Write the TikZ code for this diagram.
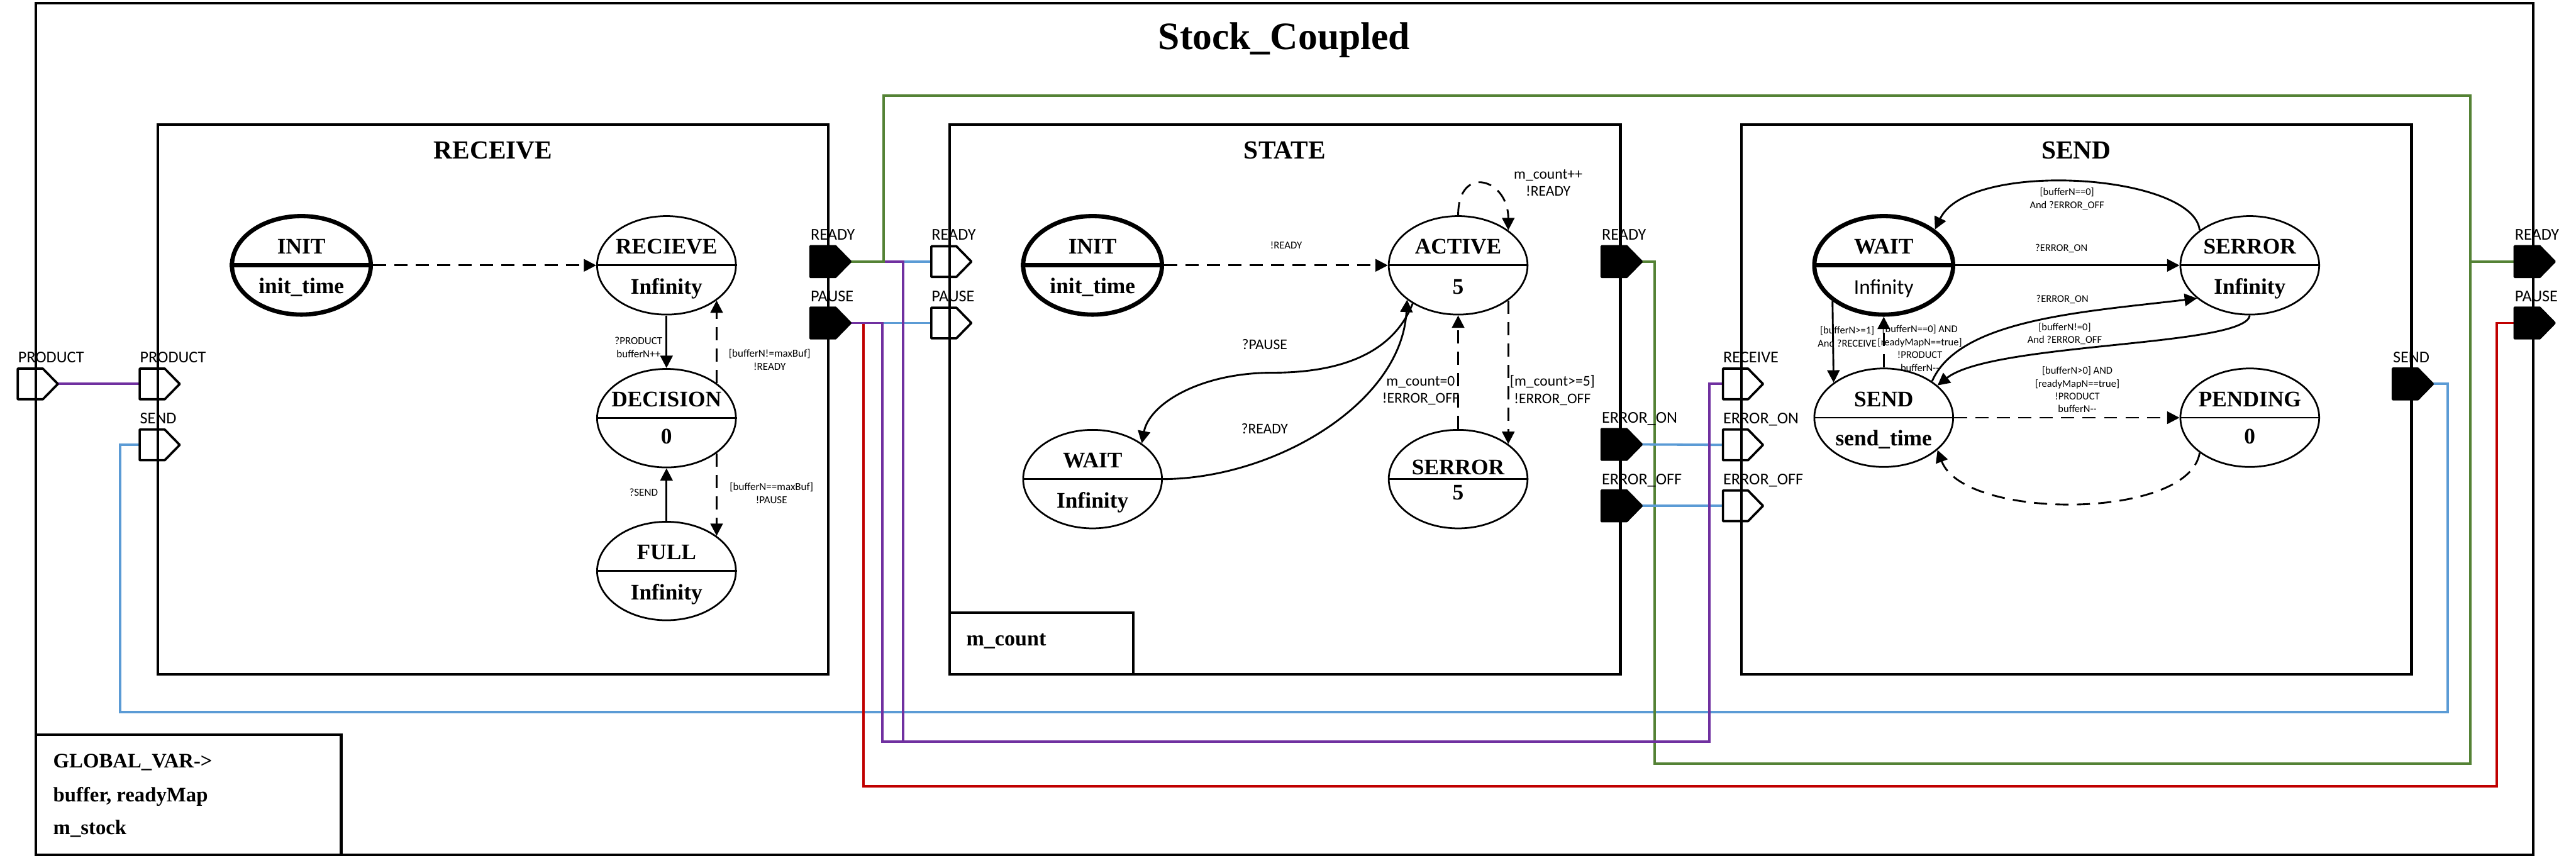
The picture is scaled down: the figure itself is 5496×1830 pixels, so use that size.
\documentclass[tikz,border=0pt]{standalone}
\usepackage{fontspec}
\setmainfont{Liberation Serif}
\newfontfamily\calib{Carlito}
\usetikzlibrary{arrows.meta,shapes.geometric}

\definecolor{cgreen}{RGB}{84,130,53}
\definecolor{cblue}{RGB}{91,155,213}
\definecolor{cpurple}{RGB}{112,48,160}
\definecolor{cred}{RGB}{192,0,0}

\tikzset{
  box/.style={draw, line width=1.6pt},
  wire/.style={line width=1.45pt},
  stbase/.style={ellipse, draw, line width=1.05pt, minimum width=2.96cm, minimum height=2.10cm, inner sep=0pt},
  stinit/.style={line width=2.6pt},
  stnorm/.style={},
  sttext/.style={font=\fontsize{13.5}{16}\selectfont\bfseries, anchor=base, inner sep=0pt},
  btitle/.style={font=\fontsize{15.8}{19}\selectfont\bfseries, anchor=base, inner sep=0pt},
  tr/.style={line width=1.1pt, -{Triangle[length=7.5pt,width=7.5pt]}},
  trd/.style={tr, dash pattern=on 8pt off 5pt},
  portbox/.style={minimum width=0.84cm, minimum height=0.64cm, inner sep=0pt, anchor=west},
  pin/.style={draw, line width=1.4pt, line join=round},
  pout/.style={draw, fill=black, line width=1.4pt, line join=round},
  plabel/.style={font={\calib\fontsize{10}{12}\selectfont}, anchor=base west, inner sep=0pt},
  lblR/.style={font={\calib\fontsize{6.5}{8}\selectfont}, align=center, inner sep=0pt},
  lblRs/.style={font={\calib\fontsize{6.4}{8}\selectfont}, align=center, inner sep=0pt},
  lblS/.style={font={\calib\fontsize{9}{10.5}\selectfont}, align=center, inner sep=0pt},
  lblD/.style={font={\calib\fontsize{6.3}{7.8}\selectfont}, align=center, inner sep=0pt},
  gtext/.style={font=\fontsize{12.5}{15}\selectfont\bfseries, anchor=base west, inner sep=0pt}
}

% state: style, name, position, top text, bottom text, top shift, bottom shift
\newcommand\stnode[7]{%
  \node[stbase,#1] (#2) at (#3) {};
  \draw[line width=1.05pt,#1] (#2.west) -- (#2.east);
  \node[sttext] (#2-t) at ([yshift=#6]#2.center) {#4};
  \node[sttext] (#2-b) at ([yshift=#7]#2.center) {#5};
}
% port: style, name, left-middle position, label
\newcommand\port[4]{%
  \node[portbox] (#2) at (#3) {};
  \draw[#1] (#2.north west) -- ([xshift=-0.32cm]#2.north east) -- (#2.east)
     -- ([xshift=-0.32cm]#2.south east) -- (#2.south west) -- cycle;
  \node[plabel] (#2-l) at ([yshift=0.13cm]#2.north west) {#4};
}

\begin{document}
\begin{tikzpicture}[x=0.01cm,y=-0.01cm]
\useasboundingbox (0,0) rectangle (5496,1830);

% ---------- frames ----------
\draw[box] (77,7) rectangle (5405,1823);
\node[font=\fontsize{23.5}{28}\selectfont\bfseries, anchor=base, inner sep=0pt] (title) at (2740,105) {Stock\_Coupled};

\draw[box] (337,266) rectangle (1767,1438);
\node[btitle] (tR) at (1052,339) {RECEIVE};
\draw[box] (2026,266) rectangle (3457,1438);
\node[btitle] (tS) at (2741,339) {STATE};
\draw[box] (3715,266) rectangle (5145,1438);
\node[btitle] (tD) at (4430,339) {SEND};

\draw[box] (2026,1307) rectangle (2418,1438);
\node[font=\fontsize{13}{16}\selectfont\bfseries, anchor=base west, inner sep=0pt] (mc) at (2061,1377) {m\_count};

\draw[box] (77,1567) rectangle (728,1823);
\node[gtext] (g1) at (113,1637) {GLOBAL\_VAR->};
\node[gtext] (g2) at (113,1710) {buffer, readyMap};
\node[gtext] (g3) at (113,1780) {m\_stock};

% ---------- port anchors (invisible) for wires ----------
\node[portbox] (oPROD) at (38,819) {};
\node[portbox] (rPROD) at (298,819) {};
\node[portbox] (rSEND) at (298,949) {};
\node[portbox] (rREADY) at (1729,558) {};
\node[portbox] (rPAUSE) at (1729,689) {};
\node[portbox] (tREADY) at (1987,558) {};
\node[portbox] (tPAUSE) at (1987,689) {};
\node[portbox] (tREADYo) at (3417,558) {};
\node[portbox] (tEON) at (3417,948) {};
\node[portbox] (tEOFF) at (3417,1079) {};
\node[portbox] (dRECV) at (3676,819) {};
\node[portbox] (dEON) at (3676,949) {};
\node[portbox] (dEOFF) at (3676,1079) {};
\node[portbox] (dSEND) at (5105,819) {};
\node[portbox] (oREADY) at (5365,558) {};
\node[portbox] (oPAUSE) at (5365,689) {};

% ---------- wires ----------
\draw[wire,cblue] (dSEND.east) -| (5222,1519) -- (256,1519) |- (rSEND.west);
\draw[wire,cblue] (rREADY.east) -- (tREADY.west);
\draw[wire,cblue] (rPAUSE.east) -- (tPAUSE.west);
\draw[wire,cgreen] (tREADYo.east) -| (3530,1629) -- (5270,1629) |- (oREADY.west);
\draw[wire,cblue] (tEON.east) -- (dEON.west);
\draw[wire,cblue] (tEOFF.east) -- (dEOFF.west);
\draw[wire,cred] (oPAUSE.west) -| (5327,1677) -- (1842,1677) |- (rPAUSE.east);
\draw[wire,cpurple] (oPROD.east) -- (rPROD.west);
\draw[wire,cpurple] (rPAUSE.east) -| (1882,1582) -- (3647,1582) |- (dRECV.west);
\draw[wire,cpurple] (rREADY.east) -| (1927,1582) -- (1882,1582);
\draw[wire,cgreen] (rREADY.east) -| (1885,204) -- (5270,204) |- (oREADY.west);

% ---------- ports ----------
\port{pin}{oPROD}{38,819}{PRODUCT}
\port{pin}{rPROD}{298,819}{PRODUCT}
\port{pin}{rSEND}{298,949}{SEND}
\port{pout}{rREADY}{1729,558}{READY}
\port{pout}{rPAUSE}{1729,689}{PAUSE}
\port{pin}{tREADY}{1987,558}{READY}
\port{pin}{tPAUSE}{1987,689}{PAUSE}
\port{pout}{tREADYo}{3417,558}{READY}
\port{pout}{tEON}{3417,948}{ERROR\_ON}
\port{pout}{tEOFF}{3417,1079}{ERROR\_OFF}
\port{pin}{dRECV}{3676,819}{RECEIVE}
\port{pin}{dEON}{3676,949}{ERROR\_ON}
\port{pin}{dEOFF}{3676,1079}{ERROR\_OFF}
\port{pout}{dSEND}{5105,819}{SEND}
\port{pout}{oREADY}{5365,558}{READY}
\port{pout}{oPAUSE}{5365,689}{PAUSE}

% ---------- RECEIVE states ----------
\stnode{stinit}{rINIT}{643,566}{INIT}{init\_time}{0.24cm}{-0.60cm}
\stnode{stnorm}{rRCV}{1422,566}{RECIEVE}{Infinity}{0.24cm}{-0.61cm}
\stnode{stnorm}{rDEC}{1422,892}{DECISION}{0}{0.24cm}{-0.55cm}
\stnode{stnorm}{rFULL}{1422,1218}{FULL}{Infinity}{0.24cm}{-0.61cm}

\draw[trd] (rINIT.east) -- (rRCV.west);
\draw[tr] (rRCV.south) -- (rDEC.north);
\draw[trd] (rDEC.35) -- (rRCV.-35);
\draw[tr] (rFULL.north) -- (rDEC.south);
\draw[trd] (rDEC.-35) -- (rFULL.35);
\node[lblR, anchor=east] (l1) at (1414,741) {?PRODUCT\\bufferN++};
\node[lblR] (l2) at (1642,768) {[bufferN!=maxBuf]\\!READY};
\node[lblR] (l3) at (1373,1050) {?SEND};
\node[lblR] (l4) at (1646,1052) {[bufferN==maxBuf]\\!PAUSE};

% ---------- STATE states ----------
\stnode{stinit}{tINIT}{2331,566}{INIT}{init\_time}{0.24cm}{-0.60cm}
\stnode{stnorm}{tACT}{3111,566}{ACTIVE}{5}{0.24cm}{-0.61cm}
\stnode{stnorm}{tWAIT}{2331,1022}{WAIT}{Infinity}{0.24cm}{-0.61cm}
\stnode{stnorm}{tSER}{3111,1022}{SERROR}{5}{0.10cm}{-0.44cm}

\draw[trd] (tINIT.east) -- (tACT.west);
\node[lblRs] (l5) at (2744,523) {!READY};
\draw[trd] (tACT.north) .. controls +(0,-110) and +(0,-110) .. (tACT.35);
\node[lblS] (l6) at (3303,390) {m\_count++\\!READY};
\draw[tr] (tACT.-140) .. controls +(-44,112) and +(135,0) .. (2715,795)
          .. controls +(-155,0) and +(16,-84) .. (tWAIT.36);
\node[lblS] (l7) at (2698,734) {?PAUSE};
\draw[tr] (tWAIT.east) .. controls (2720,1021) and (2990,860) .. (tACT.-146);
\node[lblS] (l8) at (2698,915) {?READY};
\draw[trd] (tSER.north) -- (tACT.south);
\draw[trd] (tACT.-35) -- (tSER.35);
\node[lblS] (l9) at (3031,833) {m\_count=0\\!ERROR\_OFF};
\node[lblS] (l10) at (3312,833) {[m\_count>=5]\\!ERROR\_OFF};

% ---------- SEND states ----------
\stnode{stinit}{dWAIT}{4019,566}{WAIT}{{\calib\mdseries\fontsize{12.7}{15}\selectfont Infinity}}{0.24cm}{-0.61cm}
\stnode{stnorm}{dSER}{4800,566}{SERROR}{Infinity}{0.24cm}{-0.61cm}
\stnode{stnorm}{dSND}{4019,891}{SEND}{send\_time}{0.24cm}{-0.60cm}
\stnode{stnorm}{dPEN}{4800,891}{PENDING}{0}{0.24cm}{-0.55cm}

\draw[tr] (dWAIT.east) -- (dSER.west);
\node[lblD] (l11) at (4398,530) {?ERROR\_ON};
\draw[tr] (dSER.145) .. controls (4680,370) and (4200,340) .. (dWAIT.35);
\node[lblD] (l12) at (4410,424) {[bufferN==0]\\And ?ERROR\_OFF};
\draw[tr] (dWAIT.-145) -- (dSND.145);
\node[lblD] (l13) at (3941,718) {[bufferN>=1]\\And ?RECEIVE};
\draw[trd] (dSND.north) -- (dWAIT.south);
\node[lblD] (l14) at (4096,743) {[bufferN==0] AND\\{}[readyMapN==true]\\!PRODUCT\\bufferN-{}-};
\draw[tr] (dSND.37) .. controls (4180,680) and (4450,665) .. (dSER.-148);
\node[lblD] (l15) at (4400,639) {?ERROR\_ON};
\draw[tr] (dSER.south) .. controls (4790,740) and (4250,730) .. (dSND.31);
\node[lblD] (l16) at (4405,712) {[bufferN!=0]\\And ?ERROR\_OFF};
\draw[trd] (dSND.east) -- (dPEN.west);
\node[lblD] (l17) at (4432,831) {[bufferN>0] AND\\{}[readyMapN==true]\\!PRODUCT\\bufferN-{}-};
\draw[trd] (dPEN.-145) .. controls (4670,1110) and (4190,1110) .. (dSND.-31);

\end{tikzpicture}
\end{document}
